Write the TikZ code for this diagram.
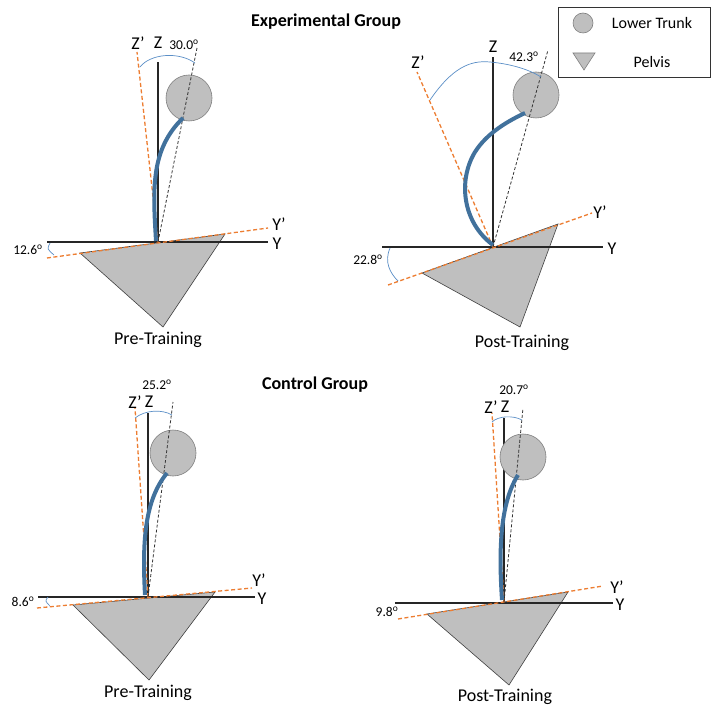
\documentclass[tikz,border=0pt]{standalone}
\usepackage{fontspec}
\setmainfont{Carlito}
\definecolor{orng}{HTML}{ED7D31}
\definecolor{spine}{HTML}{41719C}
\definecolor{arcb}{HTML}{5B8FC7}
\definecolor{grayfill}{HTML}{BFBFBF}
\definecolor{grayline}{HTML}{7F7F7F}
\tikzset{
  axis/.style={draw=black!85,line width=1.2pt},
  primed/.style={draw=orng,line width=1.3pt,dash pattern=on 4pt off 2.5pt},
  trunkline/.style={draw=black!80,line width=0.8pt,dash pattern=on 3pt off 2pt},
  trunkc/.style={circle,draw=grayline,fill=grayfill,line width=0.6pt,minimum size=46pt,inner sep=0pt},
  pelvis/.style={draw=black!75,fill=grayfill,line width=0.6pt},
  spinecurve/.style={draw=spine,line width=4pt},
  angarc/.style={draw=arcb,line width=0.7pt},
  axlbl/.style={font=\fontsize{18}{20}\selectfont,inner sep=0pt},
  anglbl/.style={font=\fontsize{13.5}{15}\selectfont,inner sep=0pt},
  caption/.style={font=\fontsize{18}{20}\selectfont,inner sep=0pt},
  title/.style={font=\bfseries\fontsize{18}{20}\selectfont,inner sep=0pt},
  leg/.style={font=\fontsize{16}{18}\selectfont,inner sep=0pt}
}
\begin{document}
\begin{tikzpicture}[x=1pt,y=-1pt]
\useasboundingbox (0,0) rectangle (711,708);
\fill[white] (0,0) rectangle (711,708);

% ---------- titles ----------
\node[title] (t1) at (326,22) {Experimental Group};
\node[title] (t2) at (315,385) {Control Group};

% ---------- legend ----------
\draw[black!80,line width=0.8pt] (558,7) rectangle (710,77);
\node[trunkc,minimum size=20pt] (lgc) at (583,23) {};
\draw[pelvis,draw=grayline] (573,53) -- (595,53) -- (584,70) -- cycle;
\node[leg] (lg1) at (652,23) {Lower Trunk};
\node[leg] (lg2) at (652,62) {Pelvis};

% ================= Panel A: experimental pre =================
\coordinate (Ao) at (158,242);
\coordinate (Azt) at (158,62);
\coordinate (Ayl) at (47,242);
\coordinate (Ayr) at (268,242);
\coordinate (Apl) at (47,258);
\coordinate (Apr) at (268,228);
\coordinate (Azp) at (137,52);
\coordinate (Atr) at (197,48);
\draw[pelvis] (80,253) -- (225,234) -- (163,327) -- cycle;
\draw[axis] (Ayl) -- (Ayr);
\draw[axis] (Ao) -- (Azt);
\draw[primed] (Apl) -- (Apr);
\draw[primed] (Ao) -- (Azp);
\node[trunkc] (Ac) at (189,98) {};
\draw[trunkline] (Ao) -- (Atr);
\draw[spinecurve] (156,241) .. controls (153,190) and (150,150) .. (183,118);
\draw[angarc] (140,67) .. controls (150,54) and (178,51) .. (195,63);
\draw[angarc] (50,243) .. controls (47,249) .. (54,255);
\node[axlbl] (Alz) at (158,43) {Z};
\node[axlbl] (Alzp) at (138,43) {Z’};
\node[anglbl] (Ala) at (184,45) {30.0\textsuperscript{o}};
\node[axlbl] (Aly) at (277,244) {Y};
\node[axlbl] (Alyp) at (279,224) {Y’};
\node[anglbl] (Alb) at (28,250) {12.6\textsuperscript{o}};
\node[caption] (Acap) at (158,340) {Pre-Training};

% ================= Panel B: experimental post =================
\coordinate (Bo) at (493,247);
\coordinate (Bzt) at (493,57);
\coordinate (Byl) at (382,247);
\coordinate (Byr) at (603,247);
\coordinate (Bpl) at (388,285);
\coordinate (Bpr) at (592,213);
\coordinate (Bzp) at (417,72);
\coordinate (Btr) at (548,50);
\draw[pelvis] (422,273) -- (558,224) -- (520,327) -- cycle;
\draw[axis] (Byl) -- (Byr);
\draw[axis] (Bo) -- (Bzt);
\draw[primed] (Bpl) -- (Bpr);
\draw[primed] (Bo) -- (Bzp);
\node[trunkc] (Bc) at (536,95) {};
\draw[trunkline] (Bo) -- (Btr);
\draw[spinecurve] (493,245) .. controls (462,222) and (458,180) .. (475,152) .. controls (487,133) and (508,121) .. (525,113);
\draw[angarc] (430,100) .. controls (452,68) and (470,60) .. (490,62) .. controls (512,64) and (530,70) .. (541,77);
\draw[angarc] (390,248) .. controls (384,262) and (390,273) .. (398,281);
\node[axlbl] (Blz) at (493,47) {Z};
\node[axlbl] (Blzp) at (418,62) {Z’};
\node[anglbl] (Bla) at (524,57) {42.3\textsuperscript{o}};
\node[axlbl] (Bly) at (612,249) {Y};
\node[axlbl] (Blyp) at (600,212) {Y’};
\node[anglbl] (Blb) at (368,260) {22.8\textsuperscript{o}};
\node[caption] (Bcap) at (522,343) {Post-Training};

% ================= Panel C: control pre =================
\coordinate (Co) at (148,597);
\coordinate (Czt) at (148,413);
\coordinate (Cyl) at (38,597);
\coordinate (Cyr) at (255,597);
\coordinate (Cpl) at (37,608);
\coordinate (Cpr) at (252,588);
\coordinate (Czp) at (135,408);
\coordinate (Ctr) at (173,402);
\draw[pelvis] (73,605) -- (215,592) -- (149,680) -- cycle;
\draw[axis] (Cyl) -- (Cyr);
\draw[axis] (Co) -- (Czt);
\draw[primed] (Cpl) -- (Cpr);
\draw[primed] (Co) -- (Czp);
\node[trunkc] (Cc) at (173,453) {};
\draw[trunkline] (Co) -- (Ctr);
\draw[spinecurve] (145,595) .. controls (142,540) and (145,500) .. (167,473);
\draw[angarc] (135,418) .. controls (145,410) and (162,409) .. (172,415);
\draw[angarc] (48,597) .. controls (45,601) .. (50,606);
\node[axlbl] (Clz) at (149,402) {Z};
\node[axlbl] (Clzp) at (135,402) {Z’};
\node[anglbl] (Cla) at (157,385) {25.2\textsuperscript{o}};
\node[axlbl] (Cly) at (262,599) {Y};
\node[axlbl] (Clyp) at (259,580) {Y’};
\node[anglbl] (Clb) at (23,602) {8.6\textsuperscript{o}};
\node[caption] (Ccap) at (148,693) {Pre-Training};

% ================= Panel D: control post =================
\coordinate (Do) at (504,602);
\coordinate (Dzt) at (504,418);
\coordinate (Dyl) at (395,603);
\coordinate (Dyr) at (613,603);
\coordinate (Dpl) at (398,619);
\coordinate (Dpr) at (603,586);
\coordinate (Dzp) at (492,413);
\coordinate (Dtr) at (523,408);
\draw[pelvis] (427,614) -- (568,592) -- (509,685) -- cycle;
\draw[axis] (Dyl) -- (Dyr);
\draw[axis] (Do) -- (Dzt);
\draw[primed] (Dpl) -- (Dpr);
\draw[primed] (Do) -- (Dzp);
\node[trunkc] (Dc) at (523,457) {};
\draw[trunkline] (Do) -- (Dtr);
\draw[spinecurve] (502,600) .. controls (499,555) and (499,505) .. (518,475);
\draw[angarc] (492,422) .. controls (498,416) and (513,415) .. (522,420);
\node[axlbl] (Dlz) at (505,407) {Z};
\node[axlbl] (Dlzp) at (491,407) {Z’};
\node[anglbl] (Dla) at (514,390) {20.7\textsuperscript{o}};
\node[axlbl] (Dly) at (620,605) {Y};
\node[axlbl] (Dlyp) at (617,587) {Y’};
\node[anglbl] (Dlb) at (387,612) {9.8\textsuperscript{o}};
\node[caption] (Dcap) at (505,697) {Post-Training};
\end{tikzpicture}
\end{document}
